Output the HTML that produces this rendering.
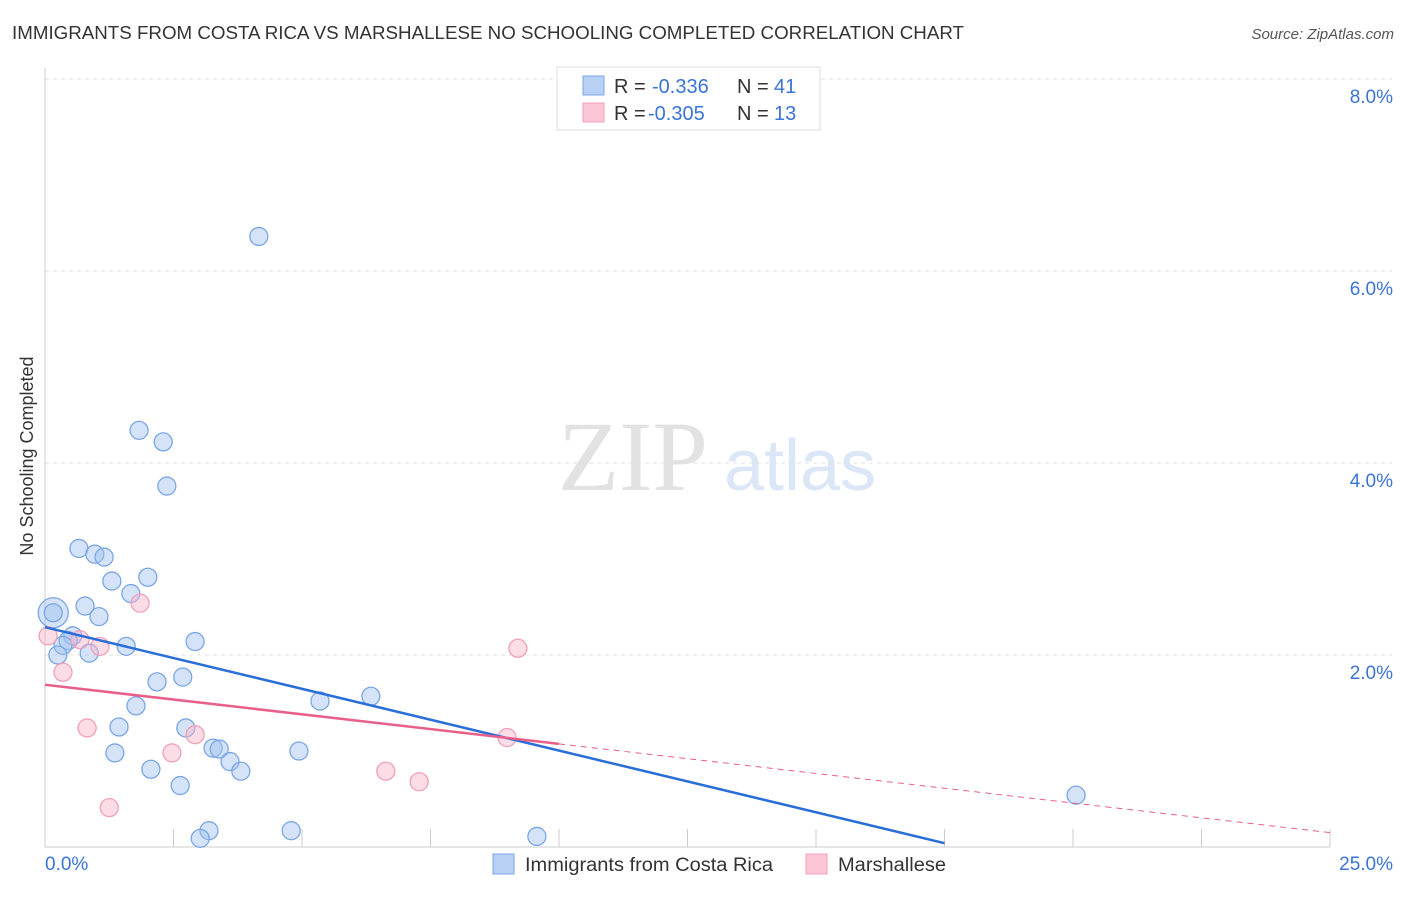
<!DOCTYPE html>
<html><head><meta charset="utf-8">
<style>
body{margin:0;background:#fff;font-family:"Liberation Sans",sans-serif;}
svg text{font-family:"Liberation Sans",sans-serif;}
</style></head>
<body>
<svg id="chart" width="1406" height="892" xmlns="http://www.w3.org/2000/svg">
<text x="12" y="39" font-size="18" fill="#333" textLength="952" lengthAdjust="spacingAndGlyphs">IMMIGRANTS FROM COSTA RICA VS MARSHALLESE NO SCHOOLING COMPLETED CORRELATION CHART</text>
<text x="1394" y="39" font-size="15" fill="#555" font-style="italic" text-anchor="end">Source: ZipAtlas.com</text>
<text x="33" y="456" font-size="18" fill="#333" text-anchor="middle" transform="rotate(-90 33 456)">No Schooling Completed</text>
<g>
<text x="633" y="490" font-size="100" fill="#e2e2e2" text-anchor="middle" font-family="Liberation Serif" style="font-family:'Liberation Serif',serif">ZIP</text>
<text x="800" y="490" font-size="72" fill="#dbe6f7" text-anchor="middle">atlas</text>
</g>
<g id="grid"></g>
<g id="axes"></g>
<g id="marks"></g>
<g>
<rect x="557" y="67" width="263" height="63" fill="#fff" stroke="#ddd"/>
<rect x="583" y="76" width="21" height="19" fill="#b9d0f5" stroke="#7aa6e6"/>
<text x="614" y="93" font-size="20" fill="#333">R = </text><text x="652" y="93" font-size="20" fill="#3a74d6">-0.336</text>
<text x="737" y="93" font-size="20" fill="#333">N = </text><text x="774" y="93" font-size="20" fill="#3a74d6">41</text>
<rect x="583" y="103" width="21" height="19" fill="#fbc6d6" stroke="#f0a0b8"/>
<text x="614" y="120" font-size="20" fill="#333">R = </text><text x="648" y="120" font-size="20" fill="#3a74d6">-0.305</text>
<text x="737" y="120" font-size="20" fill="#333">N = </text><text x="774" y="120" font-size="20" fill="#3a74d6">13</text>
</g>
<g>
<rect x="493" y="854" width="21" height="20" fill="#b9d0f5" stroke="#7aa6e6"/>
<text x="525" y="871" font-size="19" fill="#333" textLength="248" lengthAdjust="spacingAndGlyphs">Immigrants from Costa Rica</text>
<rect x="806" y="854" width="21" height="20" fill="#fbc6d6" stroke="#f0a0b8"/>
<text x="838" y="871" font-size="19" fill="#333" textLength="108" lengthAdjust="spacingAndGlyphs">Marshallese</text>
</g>
</svg>
<script>
const blueX=[4.16,1.83,2.30,2.37,0.66,0.97,1.15,1.30,2.00,1.67,0.78,1.05,0.54,0.45,0.35,0.25,0.86,1.58,2.92,2.18,2.68,1.77,1.44,2.74,5.35,6.34,1.36,2.06,3.27,3.39,3.60,3.81,4.94,2.63,3.19,3.02,4.79,9.57,20.06,0.16,0.16];
const blueY=[6.36,4.34,4.22,3.76,3.11,3.05,3.02,2.77,2.81,2.64,2.51,2.40,2.20,2.15,2.10,2.00,2.02,2.09,2.14,1.72,1.77,1.47,1.25,1.24,1.52,1.57,0.98,0.81,1.03,1.02,0.89,0.79,1.00,0.64,0.17,0.09,0.17,0.11,0.54,2.44,2.44];
const pinkX=[0.06,0.35,0.68,1.07,1.85,0.82,2.47,2.92,1.25,6.63,7.28,9.20,8.99];
const pinkY=[2.20,1.82,2.16,2.09,2.54,1.24,0.98,1.17,0.41,0.79,0.68,2.07,1.14];
const blueTrend=[2.29,0.04];const blueTrendEnd=17.5;
const pinkTrend=[1.69,0.15];const pinkSolidEnd=10.0;
const yTicks=[2,4,6,8];const yTickLabels=["2.0%","4.0%","6.0%","8.0%"];
const xLabels=["0.0%","25.0%"];
const NS="http://www.w3.org/2000/svg";
const X=v=>45+v*51.4, Y=v=>847-v*96;
function mk(t,a,p){const e=document.createElementNS(NS,t);for(const k in a)e.setAttribute(k,a[k]);p.appendChild(e);return e;}
const grid=document.getElementById('grid'),axes=document.getElementById('axes'),marks=document.getElementById('marks');
yTicks.forEach((v,i)=>{
 const l=mk('line',{x1:45,x2:1392,y1:Y(v),y2:Y(v),stroke:'#e2e2e2','stroke-dasharray':'4,4'},grid);
 
 
 const t=mk('text',{x:1393,y:Y(v)+24,'font-size':19,fill:'#3a74d6','text-anchor':'end'},axes);t.textContent=yTickLabels[i];
 
 
});
mk('line',{x1:45,x2:45,y1:68,y2:847,stroke:'#ccc'},axes);
mk('line',{x1:45,x2:1330,y1:847,y2:847,stroke:'#ccc'},axes);
for(let i=0;i<=10;i++){mk('line',{x1:X(i*2.5),x2:X(i*2.5),y1:829,y2:847,stroke:'#ccc'},axes);}
const xl0=mk('text',{x:45,y:870,'font-size':19,fill:'#3a74d6'},axes);xl0.textContent=xLabels[0];


const xl1=mk('text',{x:1393,y:870,'font-size':19,fill:'#3a74d6','text-anchor':'end'},axes);xl1.textContent=xLabels[1];


blueX.forEach((x,i)=>{
 const r=i===blueX.length-2?15:9;
 const c=mk('circle',{cx:X(x),cy:Y(blueY[i]),r:r,fill:'rgba(160,192,240,0.45)',stroke:'#7aa6e6','stroke-width':1.3},marks);
 
 
});
pinkX.forEach((x,i)=>{
 const c=mk('circle',{cx:X(x),cy:Y(pinkY[i]),r:9,fill:'rgba(248,180,200,0.45)',stroke:'#f0a0b8','stroke-width':1.3},marks);
 
 
});
const pAt=x=>pinkTrend[0]+(pinkTrend[1]-pinkTrend[0])*x/25;
const bl=mk('line',{x1:X(0),y1:Y(blueTrend[0]),x2:X(blueTrendEnd),y2:Y(blueTrend[1]),stroke:'#2a6ed8','stroke-width':2.5},marks);


const pl=mk('line',{x1:X(0),y1:Y(pAt(0)),x2:X(pinkSolidEnd),y2:Y(pAt(pinkSolidEnd)),stroke:'#e8608a','stroke-width':2.5},marks);


const pd=mk('line',{x1:X(pinkSolidEnd),y1:Y(pAt(pinkSolidEnd)),x2:X(25),y2:Y(pAt(25)),stroke:'#e8608a','stroke-width':1,'stroke-dasharray':'6,5'},marks);


</script>
</body></html>
